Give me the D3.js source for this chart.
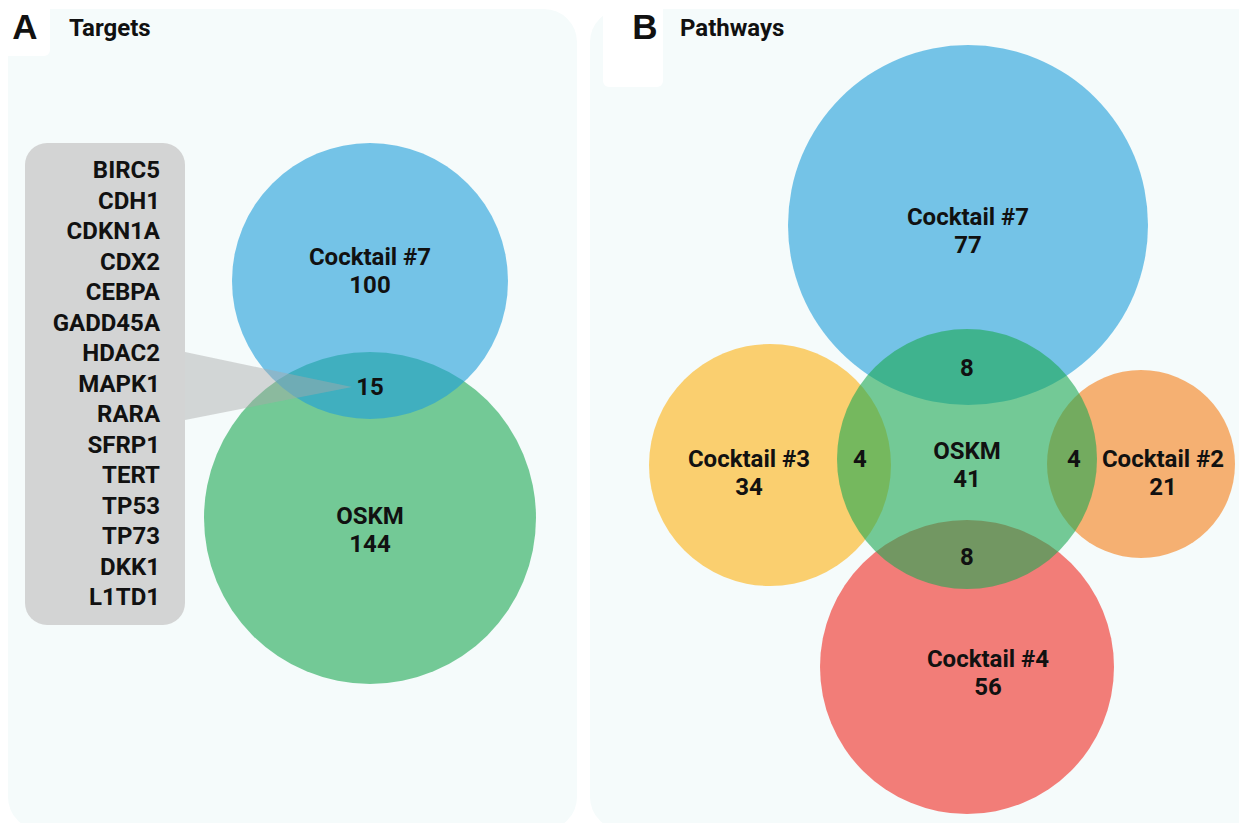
<!DOCTYPE html>
<html>
<head>
<meta charset="utf-8">
<script src="https://cdn.jsdelivr.net/npm/d3@7"></script>
<style>
  body { margin: 0; background: #fff; }
  svg { display: block; }
  text { font-family: Roboto, "Noto Sans", sans-serif; font-weight: 700; fill: #111; }
</style>
</head>
<body>
<svg id="chart"></svg>
<script>
var WIDTH = 1239;
var HEIGHT = 823;

// panel A: targets
var targetSets = ['OSKM', 'Cocktail #7'];
var targetOnly = [144, 100];
var targetShared = 15;
var sharedGenes = ['BIRC5', 'CDH1', 'CDKN1A', 'CDX2', 'CEBPA', 'GADD45A', 'HDAC2', 'MAPK1',
    'RARA', 'SFRP1', 'TERT', 'TP53', 'TP73', 'DKK1', 'L1TD1'];

// panel B: pathways
var pathwaySets = ['Cocktail #7', 'Cocktail #3', 'Cocktail #2', 'Cocktail #4', 'OSKM'];
var pathwayOnly = [77, 34, 21, 56, 41];
var pathwayShared = [8, 4, 4, 8]; // OSKM with #7, #3, #2, #4

var colors = {
    'OSKM': '#1ca853',
    'Cocktail #7': '#1e9edb',
    'Cocktail #3': '#fdb313',
    'Cocktail #2': '#f57e18',
    'Cocktail #4': '#f02921'
};

// layout (px, relative to each panel)
var layoutA = {
    'OSKM': { cx: 362, cy: 518, r: 166, lx: 362, ly: 516 },
    'Cocktail #7': { cx: 362, cy: 281, r: 138, lx: 362, ly: 257 }
};
var sharedA = { x: 362, y: 387 };
var layoutB = {
    'Cocktail #7': { cx: 378, cy: 225, r: 180, lx: 378, ly: 217 },
    'Cocktail #3': { cx: 180, cy: 465, r: 121, lx: 159, ly: 459 },
    'Cocktail #2': { cx: 551, cy: 464, r: 94, lx: 573, ly: 459 },
    'Cocktail #4': { cx: 377, cy: 667, r: 147, lx: 398, ly: 659 },
    'OSKM': { cx: 377, cy: 459, r: 130, lx: 377, ly: 451 }
};
var sharedB = [{ x: 377, y: 368 }, { x: 270, y: 459 }, { x: 484, y: 459 }, { x: 377, y: 557 }];

var svg = d3.select('#chart')
    .attr('width', WIDTH)
    .attr('height', HEIGHT);

var panels = [
    { key: 'A', title: 'Targets', x: 8, w: 569, letterBox: [0, 0, 50, 56], letterX: 25, titleX: 69 },
    { key: 'B', title: 'Pathways', x: 590, w: 690, letterBox: [603, 0, 60, 87], letterX: 645, titleX: 680 }
];

svg.selectAll('rect.panel')
    .data(panels)
    .enter()
    .append('rect')
    .attr('class', 'panel')
    .attr('x', function(d){ return d.x; })
    .attr('y', 9)
    .attr('width', function(d){ return d.w; })
    .attr('height', 821)
    .attr('rx', 33)
    .attr('fill', '#f5fbfb');

svg.selectAll('rect.letterbox')
    .data(panels)
    .enter()
    .append('rect')
    .attr('x', function(d){ return d.letterBox[0]; })
    .attr('y', function(d){ return d.letterBox[1]; })
    .attr('width', function(d){ return d.letterBox[2]; })
    .attr('height', function(d){ return d.letterBox[3]; })
    .attr('rx', 6)
    .attr('fill', '#fff');

svg.selectAll('text.letter')
    .data(panels)
    .enter()
    .append('text')
    .attr('x', function(d){ return d.letterX; })
    .attr('y', 39)
    .attr('text-anchor', 'middle')
    .style('font-family', '"Liberation Sans", Arial, sans-serif')
    .style('font-size', '35px')
    .text(function(d){ return d.key; });

svg.selectAll('text.ptitle')
    .data(panels)
    .enter()
    .append('text')
    .attr('x', function(d){ return d.titleX; })
    .attr('y', 36)
    .style('font-size', '24px')
    .text(function(d){ return d.title; });

// scales from panel space to page space
var xA = d3.scaleLinear().domain([0, 569]).range([8, 577]);
var xB = d3.scaleLinear().domain([0, 690]).range([590, 1280]);
var yS = d3.scaleLinear().domain([0, 823]).range([0, 823]);

function label(g, x, y, lines) {
    var t = g.append('text')
        .attr('text-anchor', 'middle')
        .style('font-size', '24px');
    lines.forEach(function(line, i){
        t.append('tspan')
            .attr('x', x)
            .attr('y', y + 8 + i * 28)
            .text(line);
    });
}

// ---- panel A
var gA = svg.append('g');
var orderA = ['OSKM', 'Cocktail #7'];
gA.selectAll('circle')
    .data(orderA)
    .enter()
    .append('circle')
    .attr('cx', function(d){ return xA(layoutA[d].cx); })
    .attr('cy', function(d){ return yS(layoutA[d].cy); })
    .attr('r', function(d){ return layoutA[d].r; })
    .attr('fill', function(d){ return colors[d]; })
    .attr('fill-opacity', 0.6);

// gene callout
var box = { x: 25, y: 143, w: 160, h: 482 };
gA.append('path')
    .attr('d', 'M' + (box.x + box.w) + ',352 L' + xA(sharedA.x - 18) + ',' + yS(sharedA.y) +
        ' L' + (box.x + box.w) + ',420 Z')
    .attr('fill', '#a9a9a9')
    .attr('fill-opacity', 0.45);
gA.append('rect')
    .attr('x', box.x)
    .attr('y', box.y)
    .attr('width', box.w)
    .attr('height', box.h)
    .attr('rx', 22)
    .attr('fill', '#d3d4d4');

var geneY = d3.scalePoint().domain(sharedGenes).range([170, 597]);
gA.selectAll('text.gene')
    .data(sharedGenes)
    .enter()
    .append('text')
    .attr('x', 160)
    .attr('y', function(d){ return geneY(d) + 8; })
    .attr('text-anchor', 'end')
    .style('font-size', '24px')
    .text(function(d){ return d; });

targetSets.forEach(function(s, i){
    label(gA, xA(layoutA[s].lx), yS(layoutA[s].ly), [s, String(targetOnly[i])]);
});
label(gA, xA(sharedA.x), yS(sharedA.y), [String(targetShared)]);

// ---- panel B
var gB = svg.append('g');
gB.selectAll('circle')
    .data(pathwaySets)
    .enter()
    .append('circle')
    .attr('cx', function(d){ return xB(layoutB[d].cx); })
    .attr('cy', function(d){ return yS(layoutB[d].cy); })
    .attr('r', function(d){ return layoutB[d].r; })
    .attr('fill', function(d){ return colors[d]; })
    .attr('fill-opacity', 0.6);

pathwaySets.forEach(function(s, i){
    label(gB, xB(layoutB[s].lx), yS(layoutB[s].ly), [s, String(pathwayOnly[i])]);
});
pathwayShared.forEach(function(v, i){
    label(gB, xB(sharedB[i].x), yS(sharedB[i].y), [String(v)]);
});
</script>
</body>
</html>
